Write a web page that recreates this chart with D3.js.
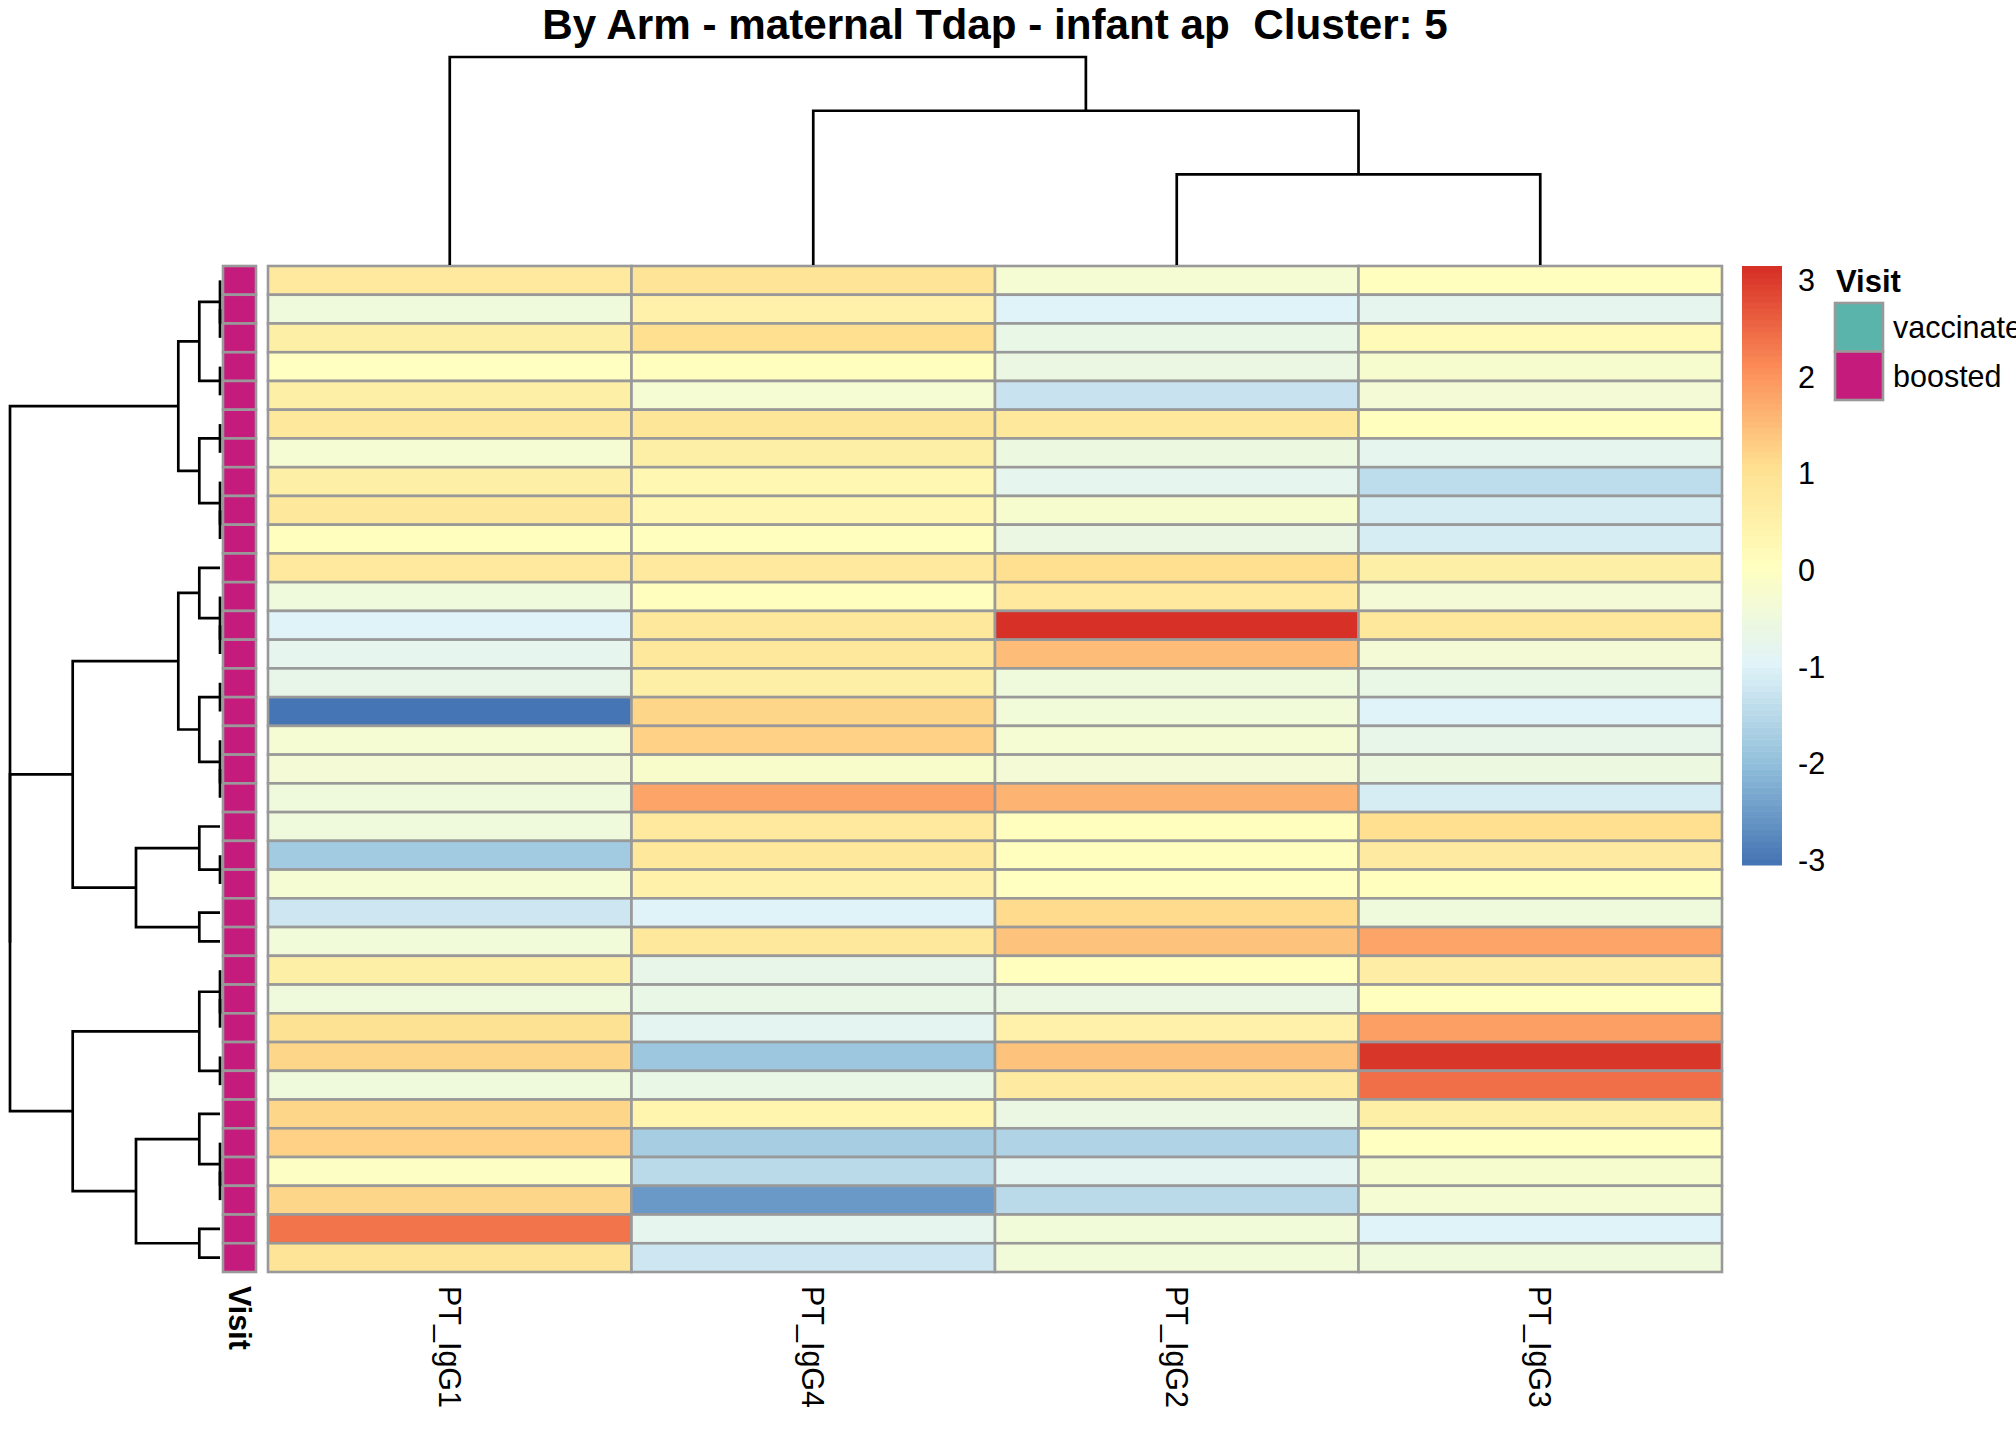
<!DOCTYPE html>
<html>
<head>
<meta charset="utf-8">
<script src="https://cdn.jsdelivr.net/npm/d3@7"></script>
<style>
  body { margin: 0; background: #fff; overflow: hidden; }
  svg { display: block; font-family: "Liberation Sans", Arial, sans-serif; }
</style>
</head>
<body>
<div id="chart"></div>
<script>
const chartTitle = "By Arm - maternal Tdap - infant ap  Cluster: 5";
const colLabels = ["PT_IgG1", "PT_IgG4", "PT_IgG2", "PT_IgG3"];

// values per column, rows in display order (top to bottom)
const ptIgG1 = [0.75, -0.5, 0.6, 0.0, 0.6, 0.85, -0.3, 0.6, 0.8, 0.1,
                0.75, -0.5, -0.95, -0.8, -0.7, -3.05, -0.3, -0.35, -0.45, -0.5,
                -1.8, -0.3, -1.2, -0.4, 0.6, -0.5, 1.0, 1.2, -0.45, 1.2,
                1.28, -0.05, 1.22, 2.39, 0.95];
const ptIgG4 = [0.95, 0.5, 1.1, 0.05, -0.3, 0.9, 0.55, 0.3, 0.3, 0.1,
                0.75, 0.1, 0.8, 0.8, 0.6, 1.2, 1.28, -0.2, 1.82, 0.75,
                0.85, 0.5, -0.95, 0.8, -0.7, -0.65, -0.85, -1.85, -0.65, 0.4,
                -1.72, -1.47, -2.54, -0.78, -1.25];
const ptIgG2 = [-0.3, -1.0, -0.65, -0.6, -1.3, 0.85, -0.55, -0.8, -0.25, -0.6,
                1.05, 0.75, 3.145, 1.5, -0.45, -0.4, -0.3, -0.35, 1.62, 0.05,
                0.05, 0.0, 1.15, 1.43, 0.05, -0.6, 0.5, 1.45, 0.7, -0.6,
                -1.58, -0.85, -1.47, -0.4, -0.4];
const ptIgG3 = [0.1, -0.8, 0.2, -0.25, -0.35, 0.05, -0.8, -1.4, -1.1, -1.1,
                0.6, -0.35, 0.8, -0.35, -0.65, -0.95, -0.75, -0.55, -1.1, 1.05,
                0.7, 0.05, -0.5, 1.8, 0.65, 0.1, 1.85, 3.04, 2.46, 0.6,
                0.0, -0.25, -0.3, -0.95, -0.45];

const visit = ["boosted", "boosted", "boosted", "boosted", "boosted", "boosted", "boosted",
               "boosted", "boosted", "boosted", "boosted", "boosted", "boosted", "boosted",
               "boosted", "boosted", "boosted", "boosted", "boosted", "boosted", "boosted",
               "boosted", "boosted", "boosted", "boosted", "boosted", "boosted", "boosted",
               "boosted", "boosted", "boosted", "boosted", "boosted", "boosted", "boosted"];
const visitLevels = ["vaccinated", "boosted"];
const visitColors = ["#5AB4AC", "#C51B7D"];

// dendrograms: [left, right, height], leaves are row / column indices
const rowTree = [
  [[[0, [1, 2, 0], 0], [3, 4, 0], 20.7], [[5, 6, 0], [7, [8, 9, 0], 0], 20.7], 41.7],
  [
    [
      [[10, [11, [12, 13, 0], 0], 20.7], [[14, 15, 0], [16, [17, 18, 0], 0], 20.7], 41.7],
      [[19, [20, 21, 0], 20.7], [22, 23, 20.7], 84],
      147.3
    ],
    [
      [[24, [25, 26, 0], 0], [27, 28, 0], 20.7],
      [[29, [30, [31, 32, 0], 0], 20.7], [33, 34, 20.7], 84],
      147.3
    ],
    210
  ],
  210
];
const colTree = [0, [1, [2, 3, 91], 155], 209];

const legendTicks = [-3, -2, -1, 0, 1, 2, 3];
const palette = ["#4575B4", "#91BFDB", "#E0F3F8", "#FFFFBF", "#FEE090", "#FC8D59", "#D73027"];

const width = 2016, height = 1440;
const fs = 30.5;

const svg = d3.select("#chart").append("svg")
    .attr("width", width)
    .attr("height", height);

const columns = [ptIgG1, ptIgG4, ptIgG2, ptIgG3];
const nRows = ptIgG1.length;

const x = d3.scaleBand().domain(d3.range(colLabels.length)).range([268, 1722]);
const y = d3.scaleBand().domain(d3.range(nRows)).range([266, 1272]);

// pheatmap style: 100 colours, breaks from min to max
const ramp = d3.scaleLinear()
    .domain(d3.range(palette.length).map(i => i / (palette.length - 1)))
    .range(palette)
    .interpolate(d3.interpolateRgb);
const nColors = 100;
const colors = d3.range(nColors).map(i => ramp(i / (nColors - 1)));
const [vmin, vmax] = d3.extent(columns.flat());
const color = d3.scaleQuantize().domain([vmin, vmax]).range(colors);

// cells
const cells = [];
columns.forEach((col, j) => col.forEach((v, i) => cells.push({i, j, v})));

svg.append("g").selectAll("rect")
    .data(cells)
    .enter().append("rect")
    .attr("x", d => x(d.j))
    .attr("y", d => y(d.i))
    .attr("width", x.bandwidth())
    .attr("height", y.bandwidth())
    .attr("fill", d => color(d.v))
    .attr("stroke", "#999999")
    .attr("stroke-width", 2.6);

// annotation column
const visitColor = d3.scaleOrdinal().domain(visitLevels).range(visitColors);
svg.append("g").selectAll("rect")
    .data(visit)
    .enter().append("rect")
    .attr("x", 223)
    .attr("y", (d, i) => y(i))
    .attr("width", 33)
    .attr("height", y.bandwidth())
    .attr("fill", d => visitColor(d))
    .attr("stroke", "#999999")
    .attr("stroke-width", 2.6);

// dendrograms
function walk(node, pos, segs) {
    if (typeof node === "number") return {c: pos(node), h: 0};
    const a = walk(node[0], pos, segs), b = walk(node[1], pos, segs);
    segs.push([a, b, node[2]]);
    return {c: (a.c + b.c) / 2, h: node[2]};
}

const rowSegs = [];
walk(rowTree, i => y(i) + y.bandwidth() / 2, rowSegs);
const rx = d3.scaleLinear().domain([0, rowTree[2]]).range([220, 10]);
svg.append("g").selectAll("path")
    .data(rowSegs)
    .enter().append("path")
    .attr("d", ([a, b, h]) => "M" + rx(a.h) + "," + a.c + "H" + rx(h) + "V" + b.c + "H" + rx(b.h))
    .attr("fill", "none")
    .attr("stroke", "#000")
    .attr("stroke-width", 2.7);

const colSegs = [];
walk(colTree, j => x(j) + x.bandwidth() / 2, colSegs);
const cy = d3.scaleLinear().domain([0, colTree[2]]).range([265, 57]);
svg.append("g").selectAll("path")
    .data(colSegs)
    .enter().append("path")
    .attr("d", ([a, b, h]) => "M" + a.c + "," + cy(a.h) + "V" + cy(h) + "H" + b.c + "V" + cy(b.h))
    .attr("fill", "none")
    .attr("stroke", "#000")
    .attr("stroke-width", 2.7);

// title
svg.append("text")
    .attr("x", (x.range()[0] + x.range()[1]) / 2)
    .attr("y", 39)
    .attr("text-anchor", "middle")
    .attr("xml:space", "preserve")
    .style("white-space", "pre")
    .style("font-size", "42.2px")
    .style("font-weight", "bold")
    .text(chartTitle);

// column labels
svg.append("g").selectAll("text")
    .data(colLabels)
    .enter().append("text")
    .attr("transform", (d, j) => "translate(" + (x(j) + x.bandwidth() / 2) + ",1286) rotate(90)")
    .attr("dominant-baseline", "central")
    .style("font-size", fs + "px")
    .text(d => d);

svg.append("text")
    .attr("transform", "translate(239.5,1286) rotate(90)")
    .attr("dominant-baseline", "central")
    .style("font-size", fs + "px")
    .style("font-weight", "bold")
    .text("Visit");

// colour legend
const ly = d3.scaleLinear().domain([vmin, vmax]).range([865, 266]);
const step = (vmax - vmin) / nColors;
svg.append("g").selectAll("rect")
    .data(colors)
    .enter().append("rect")
    .attr("x", 1742)
    .attr("y", (d, i) => ly(vmin + (i + 1) * step))
    .attr("width", 40)
    .attr("height", (d, i) => ly(vmin + i * step) - ly(vmin + (i + 1) * step) + 0.5)
    .attr("fill", d => d);

svg.append("g").selectAll("text")
    .data(legendTicks)
    .enter().append("text")
    .attr("x", 1798)
    .attr("y", d => ly(d))
    .attr("dominant-baseline", "central")
    .style("font-size", fs + "px")
    .text(d => d);

// annotation legend
svg.append("text")
    .attr("x", 1836)
    .attr("y", 292)
    .style("font-size", "31px")
    .style("font-weight", "bold")
    .text("Visit");

const lg = svg.append("g").selectAll("g")
    .data(visitLevels)
    .enter().append("g");
lg.append("rect")
    .attr("x", 1835)
    .attr("y", (d, i) => 303 + i * 48.5)
    .attr("width", 48)
    .attr("height", 48.5)
    .attr("fill", d => visitColor(d))
    .attr("stroke", "#999999")
    .attr("stroke-width", 2.6);
lg.append("text")
    .attr("x", 1893)
    .attr("y", (d, i) => 303 + i * 48.5 + 24)
    .attr("dominant-baseline", "central")
    .style("font-size", fs + "px")
    .text(d => d);
</script>
</body>
</html>
